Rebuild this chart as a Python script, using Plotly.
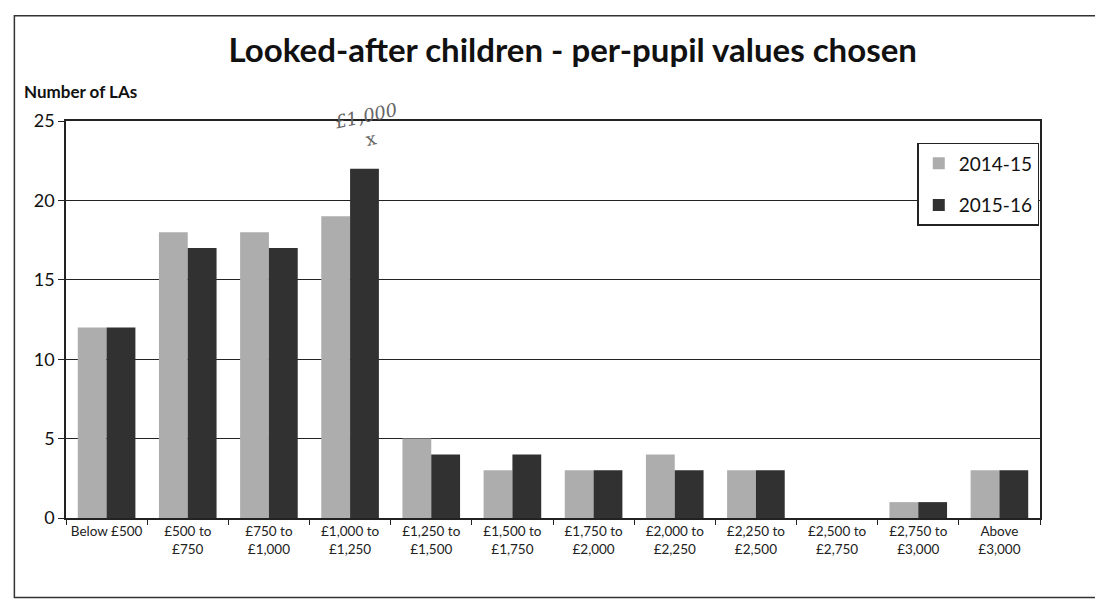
import plotly.graph_objects as go

categories = ["Below £500", "£500 to<br>£750", "£750 to<br>£1,000", "£1,000 to<br>£1,250",
              "£1,250 to<br>£1,500", "£1,500 to<br>£1,750", "£1,750 to<br>£2,000",
              "£2,000 to<br>£2,250", "£2,250 to<br>£2,500", "£2,500 to<br>£2,750",
              "£2,750 to<br>£3,000", "Above<br>£3,000"]
values_2014_15 = [12, 18, 18, 19, 5, 3, 3, 4, 3, 0, 1, 3]
values_2015_16 = [12, 17, 17, 22, 4, 4, 3, 3, 3, 0, 1, 3]
series_names = ["2014-15", "2015-16"]

FONT = "Lato, 'Open Sans', sans-serif"

fig = go.Figure()
fig.add_trace(go.Bar(x=categories, y=values_2014_15, name=series_names[0], legendgroup="a",
                     marker=dict(color="#adadad", line=dict(width=0))))
fig.add_trace(go.Bar(x=categories, y=values_2015_16, name=series_names[1], legendgroup="b",
                     marker=dict(color="#313131", line=dict(width=0))))

fig.update_layout(
    width=1103, height=611,
    margin=dict(l=58, r=71, t=113, b=101),
    paper_bgcolor="white", plot_bgcolor="white",
    barmode="group", bargap=0.29, bargroupgap=0.0,
    font=dict(family=FONT, color="#111111"),
    title=dict(text="<b>Looked-after children - per-pupil values chosen</b>",
               x=0.512, xanchor="center", y=0.93, yanchor="middle",
               font=dict(size=33, family=FONT, color="#111111")),
    legend=dict(x=0.874, y=0.945, xanchor="left", yanchor="top",
                bgcolor="white", bordercolor="#222222", borderwidth=1.5,
                font=dict(size=19, family=FONT), itemwidth=30,
                traceorder="grouped", tracegroupgap=14),
    showlegend=True,
)
fig.update_yaxes(range=[0, 25], dtick=5, showgrid=True, gridcolor="#222222", gridwidth=1,
                 showline=True, linecolor="#222222", linewidth=1.5, mirror=True,
                 ticks="outside", ticklen=6, tickcolor="#222222",
                 tickfont=dict(size=18, family=FONT), zeroline=False)
fig.update_xaxes(showline=True, linecolor="#222222", linewidth=1.5, mirror=True,
                 ticks="outside", tickson="boundaries", ticklen=5, tickcolor="#222222",
                 tickfont=dict(size=13.5, family=FONT, color="#222222"), showgrid=False)

fig.add_annotation(text="<b>Number of LAs</b>", xref="paper", yref="paper",
                   x=-0.045, y=1.075, xanchor="left", yanchor="middle", showarrow=False,
                   font=dict(size=17, family=FONT, color="#111111"))
fig.add_annotation(text="<i>£1,000</i><br>x", xref="paper", yref="paper",
                   x=0.31, y=0.985, xanchor="center", yanchor="middle", showarrow=False,
                   textangle=-12, font=dict(size=18, family="DejaVu Serif", color="#666666"))
fig.add_shape(type="rect", xref="paper", yref="paper",
              x0=-0.053, x1=1.07, y0=-0.20, y1=1.265,
              line=dict(color="#333333", width=1.5), fillcolor="rgba(0,0,0,0)", layer="below")

fig.write_html("out.html")
